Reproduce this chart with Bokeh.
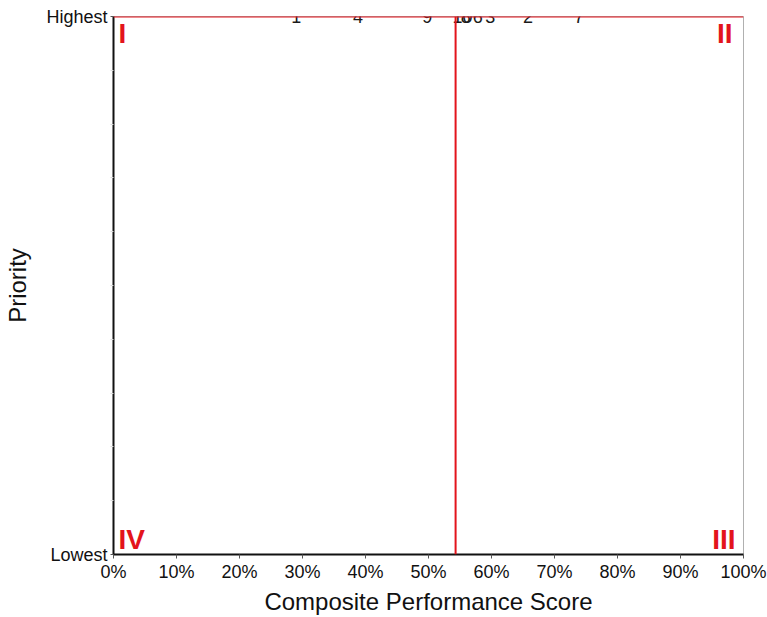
from bokeh.plotting import figure
from bokeh.models import (ColumnDataSource, FixedTicker, NumeralTickFormatter,
                          Span, Range1d, Label)
from bokeh.core.properties import value
from bokeh.embed import file_html
from bokeh.resources import INLINE

# ---- data ----
item_ids = ["1", "4", "9", "10", "8", "6", "3", "2", "7"]
scores = [0.290, 0.388, 0.498, 0.554, 0.559, 0.578, 0.598, 0.658, 0.739]
priority = [10, 10, 10, 10, 10, 10, 10, 10, 10]
threshold = 0.543
x_ticks = [0.0, 0.1, 0.2, 0.3, 0.4, 0.5, 0.6, 0.7, 0.8, 0.9, 1.0]
y_major = [0, 10]
y_minor = [1, 2, 3, 4, 5, 6, 7, 8, 9]
y_labels = {0: "Lowest", 10: "Highest"}
quadrants = ["I", "II", "III", "IV"]

FONT = "Liberation Sans"
RED = "#e3141c"

p = figure(width=767, height=617, x_range=Range1d(0, 1), y_range=Range1d(0, 10),
           output_backend="svg", toolbar_location=None,
           min_border_left=113, min_border_right=24, min_border_top=16,
           min_border_bottom=59)

p.xgrid.visible = False
p.ygrid.visible = False
p.outline_line_color = "#b0b0b0"
p.outline_line_width = 1

# x axis
xa = p.xaxis[0]
xa.ticker = FixedTicker(ticks=x_ticks, minor_ticks=[])
xa.formatter = NumeralTickFormatter(format="0%")
xa.axis_label = "Composite Performance Score"
xa.axis_label_text_font = FONT
xa.axis_label_text_font_size = "24px"
xa.axis_label_text_font_style = "normal"
xa.axis_label_text_color = "#111111"
xa.axis_label_standoff = 3
xa.major_label_text_font = FONT
xa.major_label_text_font_size = "18px"
xa.major_label_text_color = "#111111"
xa.major_label_standoff = 3
xa.axis_line_color = "#111111"
xa.axis_line_width = 2
xa.major_tick_in = 0
xa.major_tick_out = 4
xa.major_tick_line_color = "#555555"

# y axis
ya = p.yaxis[0]
ya.ticker = FixedTicker(ticks=y_major, minor_ticks=y_minor)
ya.major_label_overrides = y_labels
ya.axis_label = "Priority"
ya.axis_label_text_font = FONT
ya.axis_label_text_font_size = "24px"
ya.axis_label_text_font_style = "normal"
ya.axis_label_text_color = "#111111"
ya.axis_label_standoff = 12
ya.major_label_text_font = FONT
ya.major_label_text_font_size = "18px"
ya.major_label_text_color = "#111111"
ya.major_label_standoff = 3
ya.axis_line_color = "#111111"
ya.axis_line_width = 2
ya.major_tick_in = 0
ya.major_tick_out = 3
ya.major_tick_line_color = "#555555"
ya.minor_tick_in = 0
ya.minor_tick_out = 3
ya.minor_tick_line_color = "#dddddd"

# reference lines
p.add_layout(Span(location=10, dimension="width", line_color=RED, line_width=2))
p.add_layout(Span(location=threshold, dimension="height", line_color=RED, line_width=2))

# item labels
src = ColumnDataSource(dict(x=scores, y=priority, t=item_ids))
p.text(x="x", y="y", text="t", source=src, text_align="center",
       text_baseline="middle", text_font=value(FONT), text_font_size="18px",
       text_color="#1a1a1a")

# quadrant labels
qx = [0, 1, 1, 0]
qy = [10, 10, 0, 0]
qalign = ["left", "right", "right", "left"]
qbase = ["top", "top", "bottom", "bottom"]
qxo = [5, -11, -8, 5]
qyo = [-1, -1, 0, 0]
for t, x, y, a, b, xo, yo in zip(quadrants, qx, qy, qalign, qbase, qxo, qyo):
    p.add_layout(Label(x=x, y=y, text=t, text_align=a, text_baseline=b,
                       x_offset=xo, y_offset=yo, text_font=FONT,
                       text_font_size="28px", text_font_style="bold",
                       text_color=RED))

open("out.html", "w").write(file_html(p, INLINE))
